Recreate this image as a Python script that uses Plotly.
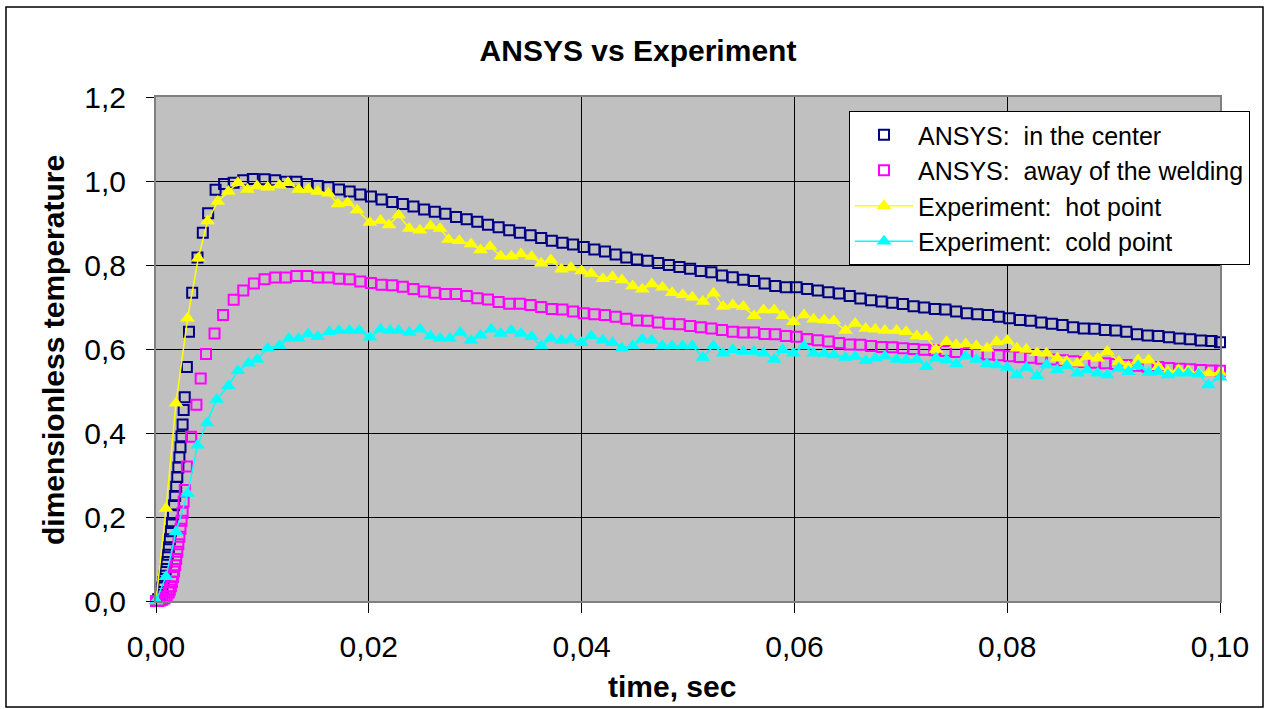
import plotly.graph_objects as go

# ---------------- data ----------------
center_t = [0, 0.0002, 0.0004, 0.0006, 0.0007, 0.0008, 0.0009, 0.0010, 0.0011, 0.0012, 0.0013,
            0.0014, 0.0015, 0.0016, 0.0017, 0.0018, 0.0019, 0.0020, 0.0021, 0.0022, 0.0023,
            0.0024, 0.0025, 0.0026, 0.0027, 0.0029, 0.0031, 0.0034, 0.0039, 0.0044, 0.0049,
            0.0056, 0.0064, 0.0073, 0.0082, 0.0091,
            0.0102, 0.0112, 0.0122, 0.0132, 0.0142, 0.0152, 0.0162, 0.0172, 0.0182, 0.0192,
            0.0202, 0.0212, 0.0222, 0.0232, 0.0242, 0.0252, 0.0262, 0.0272, 0.0282, 0.0292,
            0.0302, 0.0312, 0.0322, 0.0332, 0.0342, 0.0352, 0.0362, 0.0372, 0.0382, 0.0392,
            0.0402, 0.0412, 0.0422, 0.0432, 0.0442, 0.0452, 0.0462, 0.0472, 0.0482, 0.0492,
            0.0502, 0.0512, 0.0522, 0.0532, 0.0542, 0.0552, 0.0562, 0.0572, 0.0582, 0.0592,
            0.0602, 0.0612, 0.0622, 0.0632, 0.0642, 0.0652, 0.0662, 0.0672, 0.0682, 0.0692,
            0.0702, 0.0712, 0.0722, 0.0732, 0.0742, 0.0752, 0.0762, 0.0772, 0.0782, 0.0792,
            0.0802, 0.0812, 0.0822, 0.0832, 0.0842, 0.0852, 0.0862, 0.0872, 0.0882, 0.0892,
            0.0902, 0.0912, 0.0922, 0.0932, 0.0942, 0.0952, 0.0962, 0.0972, 0.0982, 0.0992,
            0.1000]
center_v = [0, 0.004, 0.015, 0.032, 0.045, 0.060, 0.076, 0.093, 0.110, 0.128, 0.147,
            0.166, 0.186, 0.206, 0.228, 0.250, 0.272, 0.295, 0.318, 0.342, 0.366,
            0.392, 0.420, 0.455, 0.485, 0.557, 0.641, 0.734, 0.818, 0.877, 0.923,
            0.979, 0.993, 0.996, 1.002, 1.005,
            1.004, 1.002, 0.998, 0.998, 0.993, 0.988, 0.985, 0.980, 0.975, 0.968,
            0.963, 0.956, 0.950, 0.945, 0.939, 0.932, 0.927, 0.922, 0.914, 0.909,
            0.903, 0.896, 0.890, 0.883, 0.877, 0.871, 0.864, 0.858, 0.853, 0.849,
            0.843, 0.837, 0.832, 0.825, 0.818, 0.813, 0.810, 0.805, 0.800, 0.795,
            0.791, 0.786, 0.783, 0.775, 0.771, 0.765, 0.762, 0.756, 0.750, 0.747,
            0.747, 0.743, 0.739, 0.735, 0.732, 0.726, 0.720, 0.716, 0.713, 0.710,
            0.707, 0.702, 0.699, 0.695, 0.694, 0.689, 0.685, 0.683, 0.681, 0.677,
            0.673, 0.669, 0.667, 0.663, 0.660, 0.657, 0.652, 0.649, 0.648, 0.645,
            0.644, 0.641, 0.635, 0.632, 0.631, 0.628, 0.625, 0.623, 0.620, 0.619,
            0.616]

away_t = [0, 0.0002, 0.0004, 0.0006, 0.0008, 0.0010, 0.0012, 0.0013, 0.0014, 0.0015, 0.0016,
          0.0017, 0.0018, 0.0019, 0.0020, 0.0021, 0.0022, 0.0023, 0.0024, 0.0025, 0.0026,
          0.0027, 0.0029, 0.0033, 0.0038, 0.0042, 0.0047, 0.0055, 0.0063, 0.0073, 0.0082,
          0.0092,
          0.0102, 0.0112, 0.0122, 0.0132, 0.0142, 0.0152, 0.0162, 0.0172, 0.0182, 0.0192,
          0.0202, 0.0212, 0.0222, 0.0232, 0.0242, 0.0252, 0.0262, 0.0272, 0.0282, 0.0292,
          0.0302, 0.0312, 0.0322, 0.0332, 0.0342, 0.0352, 0.0362, 0.0372, 0.0382, 0.0392,
          0.0402, 0.0412, 0.0422, 0.0432, 0.0442, 0.0452, 0.0462, 0.0472, 0.0482, 0.0492,
          0.0502, 0.0512, 0.0522, 0.0532, 0.0542, 0.0552, 0.0562, 0.0572, 0.0582, 0.0592,
          0.0602, 0.0612, 0.0622, 0.0632, 0.0642, 0.0652, 0.0662, 0.0672, 0.0682, 0.0692,
          0.0702, 0.0712, 0.0722, 0.0732, 0.0742, 0.0752, 0.0762, 0.0772, 0.0782, 0.0792,
          0.0802, 0.0812, 0.0822, 0.0832, 0.0842, 0.0852, 0.0862, 0.0872, 0.0882, 0.0892,
          0.0902, 0.0912, 0.0922, 0.0932, 0.0942, 0.0952, 0.0962, 0.0972, 0.0982, 0.0992,
          0.1000]
away_v = [0, 0.000, 0.001, 0.003, 0.006, 0.011, 0.020, 0.027, 0.035, 0.045, 0.057,
          0.070, 0.085, 0.100, 0.117, 0.135, 0.153, 0.172, 0.191, 0.210, 0.237,
          0.264, 0.320, 0.391, 0.467, 0.530, 0.588, 0.637, 0.681, 0.717, 0.739,
          0.756,
          0.766, 0.770, 0.770, 0.774, 0.774, 0.770, 0.770, 0.767, 0.766, 0.761,
          0.757, 0.753, 0.752, 0.748, 0.743, 0.737, 0.734, 0.731, 0.731, 0.726,
          0.721, 0.718, 0.712, 0.708, 0.708, 0.705, 0.700, 0.695, 0.694, 0.689,
          0.685, 0.683, 0.681, 0.677, 0.672, 0.668, 0.667, 0.663, 0.660, 0.659,
          0.655, 0.652, 0.649, 0.645, 0.641, 0.639, 0.639, 0.636, 0.635, 0.631,
          0.629, 0.624, 0.621, 0.618, 0.614, 0.611, 0.610, 0.607, 0.605, 0.604,
          0.602, 0.600, 0.598, 0.597, 0.595, 0.593, 0.591, 0.589, 0.587, 0.585,
          0.583, 0.581, 0.579, 0.577, 0.575, 0.573, 0.571, 0.569, 0.567, 0.566,
          0.564, 0.562, 0.560, 0.558, 0.557, 0.555, 0.553, 0.552, 0.550, 0.549,
          0.548]

hot_t = [0, 0.00094, 0.00188, 0.00297, 0.00397, 0.00485, 0.0058, 0.0068, 0.0077, 0.0086,
         0.0095, 0.0105, 0.0116, 0.0124, 0.0134, 0.0143, 0.0152, 0.0162, 0.0171, 0.0180,
         0.0189, 0.0201, 0.0211, 0.0219, 0.0228, 0.0238, 0.0248, 0.0258, 0.0267, 0.0275,
         0.0285, 0.0296, 0.0305, 0.0314, 0.0324, 0.0334, 0.0343, 0.0353, 0.0362, 0.0371,
         0.0381, 0.0390, 0.0400, 0.0409, 0.0420, 0.0429, 0.0438, 0.0448, 0.0457, 0.0466,
         0.0476, 0.0485, 0.0495, 0.0504, 0.0514, 0.0524, 0.0533, 0.0542, 0.0552, 0.0562,
         0.0571, 0.0581, 0.0589, 0.0599, 0.0609, 0.0618, 0.0628, 0.0637, 0.0648, 0.0657,
         0.0667, 0.0676, 0.0685, 0.0696, 0.0705, 0.0715, 0.0724, 0.0733, 0.0743, 0.0752,
         0.0761, 0.0771, 0.0781, 0.0790, 0.0800, 0.0809, 0.0818, 0.0828, 0.0837, 0.0847,
         0.0856, 0.0866, 0.0875, 0.0885, 0.0894, 0.0905, 0.0914, 0.0923, 0.0933, 0.0942,
         0.0951, 0.0961, 0.0970, 0.0980, 0.0989, 0.1000]
hot_v = [0, 0.220, 0.471, 0.673, 0.816, 0.905, 0.951, 0.975, 0.996, 0.980,
         0.988, 0.985, 0.990, 0.996, 0.980, 0.980, 0.975, 0.971, 0.945, 0.948,
         0.931, 0.901, 0.906, 0.895, 0.919, 0.887, 0.883, 0.893, 0.887, 0.861,
         0.858, 0.850, 0.836, 0.844, 0.821, 0.821, 0.826, 0.820, 0.804, 0.812,
         0.790, 0.794, 0.786, 0.780, 0.767, 0.772, 0.764, 0.750, 0.742, 0.755,
         0.747, 0.734, 0.729, 0.723, 0.713, 0.733, 0.701, 0.705, 0.701, 0.679,
         0.693, 0.693, 0.679, 0.665, 0.681, 0.671, 0.669, 0.667, 0.644, 0.661,
         0.649, 0.647, 0.644, 0.644, 0.641, 0.631, 0.629, 0.599, 0.617, 0.610,
         0.612, 0.607, 0.602, 0.617, 0.620, 0.602, 0.599, 0.591, 0.590, 0.578,
         0.570, 0.566, 0.582, 0.578, 0.594, 0.570, 0.558, 0.574, 0.574, 0.558,
         0.546, 0.550, 0.548, 0.542, 0.542, 0.544]

cold_t = [0, 0.00094, 0.00188, 0.00297, 0.0039, 0.0048, 0.0057, 0.0068, 0.0077, 0.0087,
          0.0095, 0.0105, 0.0116, 0.0125, 0.0134, 0.0143, 0.0152, 0.0163, 0.0172, 0.0182,
          0.0191, 0.0201, 0.0211, 0.0220, 0.0228, 0.0238, 0.0248, 0.0258, 0.0267, 0.0276,
          0.0286, 0.0296, 0.0305, 0.0315, 0.0324, 0.0334, 0.0343, 0.0353, 0.0362, 0.0371,
          0.0381, 0.0390, 0.0400, 0.0409, 0.0420, 0.0429, 0.0438, 0.0448, 0.0457, 0.0466,
          0.0476, 0.0485, 0.0495, 0.0504, 0.0514, 0.0524, 0.0533, 0.0542, 0.0552, 0.0562,
          0.0571, 0.0581, 0.0589, 0.0599, 0.0609, 0.0618, 0.0628, 0.0637, 0.0648, 0.0657,
          0.0667, 0.0676, 0.0685, 0.0696, 0.0705, 0.0715, 0.0724, 0.0733, 0.0743, 0.0752,
          0.0761, 0.0771, 0.0781, 0.0790, 0.0800, 0.0809, 0.0818, 0.0828, 0.0837, 0.0847,
          0.0856, 0.0866, 0.0875, 0.0885, 0.0894, 0.0905, 0.0914, 0.0923, 0.0933, 0.0942,
          0.0951, 0.0961, 0.0970, 0.0980, 0.0989, 0.1000]
cold_v = [0, 0.058, 0.165, 0.256, 0.371, 0.424, 0.480, 0.512, 0.548, 0.566,
          0.575, 0.602, 0.608, 0.625, 0.625, 0.636, 0.629, 0.641, 0.644, 0.644,
          0.644, 0.628, 0.647, 0.644, 0.644, 0.639, 0.647, 0.631, 0.625, 0.625,
          0.639, 0.620, 0.633, 0.647, 0.637, 0.644, 0.637, 0.629, 0.607, 0.625,
          0.620, 0.623, 0.615, 0.631, 0.621, 0.615, 0.602, 0.607, 0.623, 0.620,
          0.607, 0.607, 0.607, 0.607, 0.580, 0.607, 0.590, 0.598, 0.594, 0.594,
          0.590, 0.575, 0.598, 0.590, 0.607, 0.590, 0.589, 0.586, 0.580, 0.582,
          0.572, 0.578, 0.583, 0.575, 0.574, 0.575, 0.558, 0.578, 0.574, 0.564,
          0.583, 0.575, 0.564, 0.562, 0.556, 0.538, 0.556, 0.536, 0.562, 0.550,
          0.560, 0.542, 0.550, 0.542, 0.538, 0.554, 0.546, 0.560, 0.544, 0.546,
          0.538, 0.542, 0.542, 0.540, 0.514, 0.533]

names = ["ANSYS:\u00a0 in the center", "ANSYS:\u00a0 away of the welding",
         "Experiment:\u00a0 hot point", "Experiment:\u00a0 cold point"]
x_ticks = [0, 0.02, 0.04, 0.06, 0.08, 0.10]
y_ticks = [0, 0.2, 0.4, 0.6, 0.8, 1.0, 1.2]

FONT = "Liberation Sans, Arial, sans-serif"

fig = go.Figure()
fig.add_trace(go.Scatter(x=center_t, y=center_v, mode="markers", name=names[0],
                         legendgroup="a", cliponaxis=False,
                         marker=dict(symbol="square-open", size=10, color="#000080",
                                     line=dict(width=2, color="#000080"))))
fig.add_trace(go.Scatter(x=away_t, y=away_v, mode="markers", name=names[1],
                         legendgroup="b", cliponaxis=False,
                         marker=dict(symbol="square-open", size=10, color="#FF00FF",
                                     line=dict(width=2, color="#FF00FF"))))
fig.add_trace(go.Scatter(x=hot_t, y=hot_v, mode="lines+markers", name=names[2],
                         legendgroup="c", cliponaxis=False,
                         line=dict(color="#FFFF00", width=1.5),
                         marker=dict(symbol="triangle-up", size=13, color="#FFFF00")))
fig.add_trace(go.Scatter(x=cold_t, y=cold_v, mode="lines+markers", name=names[3],
                         legendgroup="d", cliponaxis=False,
                         line=dict(color="#00FFFF", width=1.5),
                         marker=dict(symbol="triangle-up", size=13, color="#00FFFF")))

L, R, T, B = 156, 45, 97, 108
PW, PH = 1265 - L - R, 709 - T - B

fig.update_layout(
    width=1265, height=709,
    margin=dict(l=L, r=R, t=T, b=B),
    paper_bgcolor="white", plot_bgcolor="#C0C0C0",
    separators=",.",
    font=dict(family=FONT, color="black", size=28),
    title=dict(text="<b>ANSYS vs Experiment</b>", x=638 / 1265, xref="container",
               xanchor="center", y=1 - 50 / 709, yref="container", yanchor="middle",
               font=dict(size=30, family=FONT, color="black")),
    showlegend=True,
    legend=dict(x=(849 - L) / PW, y=(601 - 111) / PH, xanchor="left", yanchor="top",
                bgcolor="white", bordercolor="black", borderwidth=1,
                font=dict(size=25, family=FONT, color="black"),
                itemwidth=58, tracegroupgap=6, traceorder="normal"),
    xaxis=dict(range=[0, 0.1], tickvals=x_ticks, tickformat=".2f",
               showgrid=True, gridcolor="black", gridwidth=1, zeroline=False,
               showline=True, linecolor="#808080", linewidth=2, mirror=True,
               ticks="outside", ticklen=10, tickcolor="black", tickwidth=1,
               ticklabelstandoff=8, tickfont=dict(size=30, family=FONT)),
    yaxis=dict(range=[0, 1.2], tickvals=y_ticks, tickformat=".1f",
               showgrid=True, gridcolor="black", gridwidth=1, zeroline=False,
               showline=True, linecolor="#808080", linewidth=2, mirror=True,
               ticks="outside", ticklen=8, tickcolor="black", tickwidth=1,
               ticklabelstandoff=14, tickfont=dict(size=30, family=FONT)),
    annotations=[
        dict(text="<b>time, sec</b>", xref="paper", yref="paper",
             x=(672 - L) / PW, y=(601 - 686) / PH, xanchor="center", yanchor="middle",
             showarrow=False, font=dict(size=30, family=FONT, color="black")),
        dict(text="<b>dimensionless temperature</b>", xref="paper", yref="paper",
             x=(53 - L) / PW, y=(601 - 350) / PH, xanchor="center", yanchor="middle",
             textangle=-90, showarrow=False, font=dict(size=30, family=FONT, color="black")),
    ],
    shapes=[dict(type="rect", xref="paper", yref="paper",
                 x0=(6 - L) / PW, x1=(1263 - L) / PW, y0=(601 - 707) / PH, y1=(601 - 7) / PH,
                 line=dict(color="black", width=1.5), fillcolor="rgba(0,0,0,0)", layer="below")],
)

fig.write_html("out.html")
